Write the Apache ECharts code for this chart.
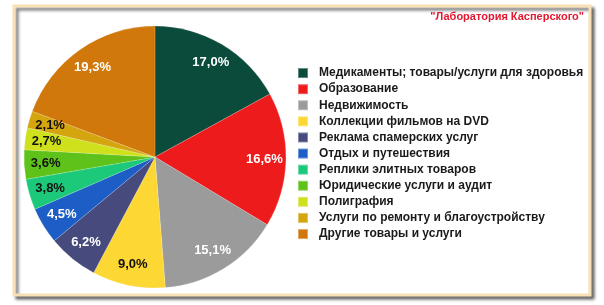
<!DOCTYPE html>
<html><head><meta charset="utf-8">
<script src="https://cdn.jsdelivr.net/npm/echarts@6/dist/echarts.min.js"></script>
<style>html,body{margin:0;padding:0;background:#fff}#c{width:604px;height:305px}</style>
</head><body><div id="c"></div>
<script>
const categories = [
  "Медикаменты; товары/услуги для здоровья",
  "Образование",
  "Недвижимость",
  "Коллекции фильмов на DVD",
  "Реклама спамерских услуг",
  "Отдых и путешествия",
  "Реплики элитных товаров",
  "Юридические услуги и аудит",
  "Полиграфия",
  "Услуги по ремонту и благоустройству",
  "Другие товары и услуги"
];
const values = [17.0, 16.6, 15.1, 9.0, 6.2, 4.5, 3.8, 3.6, 2.7, 2.1, 19.3];
const colors = ["#0a4b3c", "#ee1b1c", "#9b9b9b", "#fdd733", "#474a7d", "#1c5ec6", "#1cc97a", "#5ec21a", "#cfe01d", "#d4a50f", "#d0780b"];
const labelColors = ["#fff", "#fff", "#fff", "#111", "#fff", "#fff", "#111", "#111", "#111", "#111", "#fff"];
const sourceText = "\"Лаборатория Касперского\"";

const chart = echarts.init(document.getElementById('c'), null, {renderer: 'canvas'});
const fmt = v => v.toFixed(1).replace('.', ',') + '%';
const dataMain = categories.map((n, i) => ({name: n, value: values[i], itemStyle: {color: colors[i]}}));
const dataLbl = categories.map((n, i) => ({name: n, value: values[i], itemStyle: {color: 'rgba(0,0,0,0)'},
  label: {color: labelColors[i]}}));

chart.setOption({
  animation: false,
  backgroundColor: '#fff',
  graphic: [{
    type: 'rect', shape: {x: 14, y: 6, width: 576, height: 289},
    style: {fill: '#fff', stroke: '#f9dfb4', lineWidth: 3,
      shadowColor: 'rgba(60,60,60,0.7)', shadowBlur: 3, shadowOffsetX: 3, shadowOffsetY: 3},
    z: -10
  }, {
    type: 'text', right: 20, top: 11,
    style: {text: sourceText, fill: '#e3172f', font: 'bold 11px "Liberation Sans", Arial, sans-serif'}
  }],
  legend: {
    orient: 'vertical', left: 292, top: 60,
    itemWidth: 10, itemHeight: 10, itemGap: 0,
    icon: 'rect',
    data: categories,
    textStyle: {fontFamily: '"Liberation Sans", Arial, sans-serif', fontWeight: 'bold', fontSize: 12,
      color: '#1a1a1a', lineHeight: 16.1, padding: [0, 0, 0, 6]},
    selectedMode: false
  },
  series: [{
    type: 'pie', center: [155, 157], radius: [0, 131], startAngle: 90, clockwise: true,
    data: dataMain, label: {show: false}, labelLine: {show: false},
    itemStyle: {borderColor: 'rgba(255,255,255,0.35)', borderWidth: 0.5},
    silent: true
  }, {
    type: 'pie', center: [155, 157], radius: [82, 131], startAngle: 90, clockwise: true,
    data: dataLbl, silent: true, labelLine: {show: false},
    label: {show: true, position: 'inside', formatter: p => fmt(p.value),
      fontFamily: '"Liberation Sans", Arial, sans-serif', fontWeight: 'bold', fontSize: 13}
  }]
});
</script></body></html>
